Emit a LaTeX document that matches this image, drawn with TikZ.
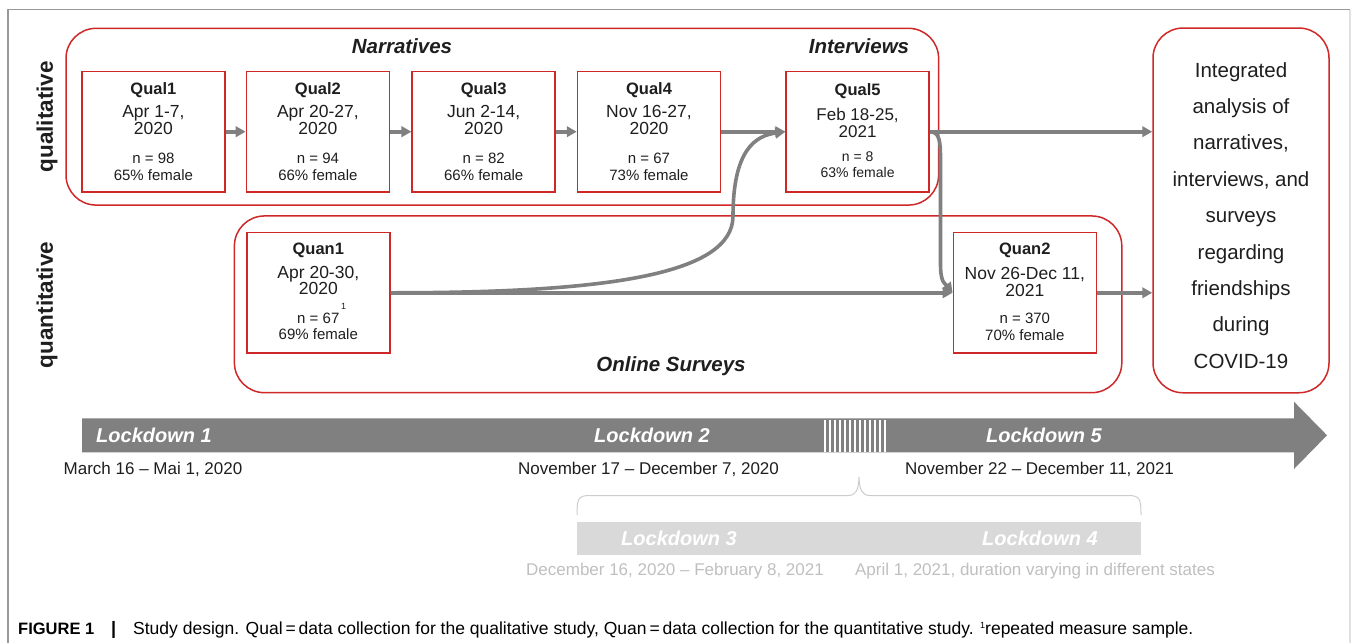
\documentclass[tikz,border=0pt]{standalone}
\usepackage{fontspec}
\setmainfont{Liberation Sans}
\usetikzlibrary{arrows.meta}

\definecolor{boxred}{RGB}{206,40,40}
\definecolor{linkgray}{RGB}{128,128,128}
\definecolor{barlight}{RGB}{217,217,217}
\definecolor{txtlight}{RGB}{191,191,191}
\definecolor{txtdark}{RGB}{30,30,30}
\newcommand{\fsz}[1]{\fontsize{#1}{#1}\selectfont}

\tikzset{
  databox/.style={draw=boxred, line width=1.5pt, minimum width=143pt, minimum height=120.5pt, inner sep=0pt},
  grpbox/.style={draw=boxred, line width=1.5pt, rounded corners=30pt, inner sep=0pt},
  link/.style={draw=linkgray, line width=3.6pt, -{Triangle[length=10pt,width=10.5pt]}},
  txt/.style={inner sep=0pt, anchor=base, text=txtdark},
  boxtitle/.style={txt, font=\fsz{16.5}\bfseries},
  boxdate/.style={txt, font=\fsz{17.5}},
  boxinfo/.style={txt, font=\fsz{15}},
  grplabel/.style={txt, font=\fsz{20.5}\bfseries\itshape},
  sidelabel/.style={inner sep=0pt, rotate=90, text=txtdark, font=\fsz{22.5}\bfseries},
  lockname/.style={txt, text=white, font=\fsz{20}\bfseries\itshape},
  lockdate/.style={txt, font=\fsz{17}},
}

\begin{document}
\begin{tikzpicture}[x=1pt, y=-1pt]
  \useasboundingbox (0,0) rectangle (1355,643);
  % frame
  \draw[line width=1.3pt, black!40] (8,643) -- (8,9.5) -- (1350,9.5);
  \draw[line width=1.3pt, black!12] (1350,9.5) -- (1350,643);

  % groups
  \node[grpbox, minimum width=872.6pt, minimum height=176.7pt] (qualgrp) at (502.3,116.7) {};
  \node[grpbox, minimum width=887.4pt, minimum height=176.7pt] (quangrp) at (678.1,304.3) {};
  \node[grpbox, minimum width=176pt, minimum height=364.7pt] (integr) at (1241,210.4) {};
  \node[grplabel] (narr) at (402,53.3) {Narratives};
  \node[grplabel] (intv) at (859,53.5) {Interviews};
  \node[grplabel] (surv) at (671,371.5) {Online Surveys};
  \node[sidelabel] (qualside) at (47,116.7) {qualitative};
  \node[sidelabel] (quanside) at (47,305) {quantitative};

  % qualitative collections
  \foreach \i/\x/\d/\n/\f in {1/153.4/Apr 1-7/98/65, 2/317.9/Apr 20-27/94/66, 3/483.7/Jun 2-14/82/66, 4/649/Nov 16-27/67/73} {
    \node[databox] (qual\i) at (\x,131.7) {};
    \node[boxtitle] (qual\i-t) at (\x,94.3) {Qual\i};
    \node[boxdate] (qual\i-d) at (\x,117.5) {\d,};
    \node[boxdate] (qual\i-y) at (\x,134.3) {2020};
    \node[boxinfo] (qual\i-n) at (\x,163.3) {n = \n};
    \node[boxinfo] (qual\i-f) at (\x,180) {\f\% female};
  }
  \node[databox] (qual5) at (857.6,131.7) {};
  \node[boxtitle] (qual5-t) at (857.6,95) {Qual5};
  \node[boxdate, font=\fsz{17}] (qual5-d) at (857.6,120) {Feb 18-25,};
  \node[boxdate, font=\fsz{17}] (qual5-y) at (857.6,137) {2021};
  \node[boxinfo, font=\fsz{14}] (qual5-n) at (857.6,161.5) {n = 8};
  \node[boxinfo, font=\fsz{14}] (qual5-f) at (857.6,177) {63\% female};

  % quantitative collections
  \node[databox] (quan1) at (318.3,292.8) {};
  \node[boxtitle] (quan1-t) at (318.3,254.3) {Quan1};
  \node[boxdate] (quan1-d) at (318.3,278) {Apr 20-30,};
  \node[boxdate] (quan1-y) at (318.3,294.8) {2020};
  \node[boxinfo] (quan1-n) at (318.3,323.3) {n = 67};
  \node[txt, font=\fsz{9}] (quan1-s) at (343.5,309) {1};
  \node[boxinfo] (quan1-f) at (318.3,339.8) {69\% female};
  \node[databox] (quan2) at (1024.8,292.8) {};
  \node[boxtitle] (quan2-t) at (1024.8,254.5) {Quan2};
  \node[boxdate] (quan2-d) at (1024.8,279.5) {Nov 26-Dec 11,};
  \node[boxdate] (quan2-y) at (1024.8,296) {2021};
  \node[boxinfo] (quan2-n) at (1024.8,323.5) {n = 370};
  \node[boxinfo] (quan2-f) at (1024.8,340.5) {70\% female};

  % integrated analysis
  \foreach \t [count=\k from 0] in {Integrated, analysis of, {narratives,}, {interviews, and}, surveys, regarding, friendships, during, COVID-19}
    \node[txt, font=\fsz{20.5}] (integr-\k) at (1241,77+36.4*\k) {\t};

  % links
  \foreach \a/\b in {1/2, 2/3, 3/4, 4/5}
    \draw[link] (qual\a) -- (qual\b);
  \draw[link] (qual5.east) -- (qual5.east -| integr.west);
  \draw[link] (quan1) -- (quan2);
  \draw[link] (quan2.east) -- (quan2.east -| integr.west);
  \coordinate (riseq) at (733,216);
  \draw[link] (quan1.east) .. controls +(210,0) and +(0,60) .. (riseq)
    .. controls +(0,-66) and +(-30,4) .. (qual5.west);
  \coordinate (dropa) at (940.5,160);
  \coordinate (dropb) at (940.5,264);
  \draw[link] (qual5.east) .. controls +(10,0) and +(0,-18) .. (dropa) -- (dropb)
    .. controls +(0,20) and +(-7,-9) .. (quan2.west);

  % timeline
  \fill[linkgray] (82,418.3) -- (1294,418.3) -- (1294,401.7) -- (1327,435.3)
    -- (1294,469) -- (1294,452.3) -- (82,452.3) -- cycle;
  \foreach \k in {0,...,12}
    \fill[white] (823.5+\k*5,419.5) rectangle ++(2.2,32);
  \node[lockname] (lock1) at (154,442.7) {Lockdown 1};
  \node[lockname] (lock2) at (652,442.7) {Lockdown 2};
  \node[lockname] (lock5) at (1044,442.7) {Lockdown 5};
  \node[lockdate] (lock1-d) at (153,474) {March 16 -- Mai 1, 2020};
  \node[lockdate] (lock2-d) at (648.5,474) {November 17 -- December 7, 2020};
  \node[lockdate] (lock5-d) at (1039.5,474) {November 22 -- December 11, 2021};

  % lockdowns 3 and 4
  \draw[line width=1pt, black!20] (577,515) .. controls (577,499) and (578,495.5) .. (590,495.5)
    -- (848,495.5) .. controls (856,495.5) and (858.5,490) .. (859,477)
    .. controls (859.5,490) and (862,495.5) .. (870,495.5)
    -- (1128,495.5) .. controls (1140,495.5) and (1141,499) .. (1141,515);
  \fill[barlight] (577,522.3) rectangle (1140.5,555);
  \node[lockname] (lock3) at (679,545.5) {Lockdown 3};
  \node[lockname] (lock4) at (1040,545.5) {Lockdown 4};
  \node[lockdate, text=txtlight] (lock3-d) at (675,575) {December 16, 2020 -- February 8, 2021};
  \node[lockdate, text=txtlight] (lock4-d) at (1035,575) {April 1, 2021, duration varying in different states};

  % caption
  \node[txt, anchor=base west, text=black, font=\fsz{17.5}] (caption) at (18,634)
    {\makebox[93pt][l]{\fsz{16.5}\bfseries FIGURE 1}\makebox[22pt][l]{\fsz{18}\bfseries |}Study design. Qual\,=\,data collection for the qualitative study, Quan\,=\,data collection for the quantitative study. \raisebox{0.55ex}{\fsz{9}1}repeated measure sample.};
\end{tikzpicture}
\end{document}
